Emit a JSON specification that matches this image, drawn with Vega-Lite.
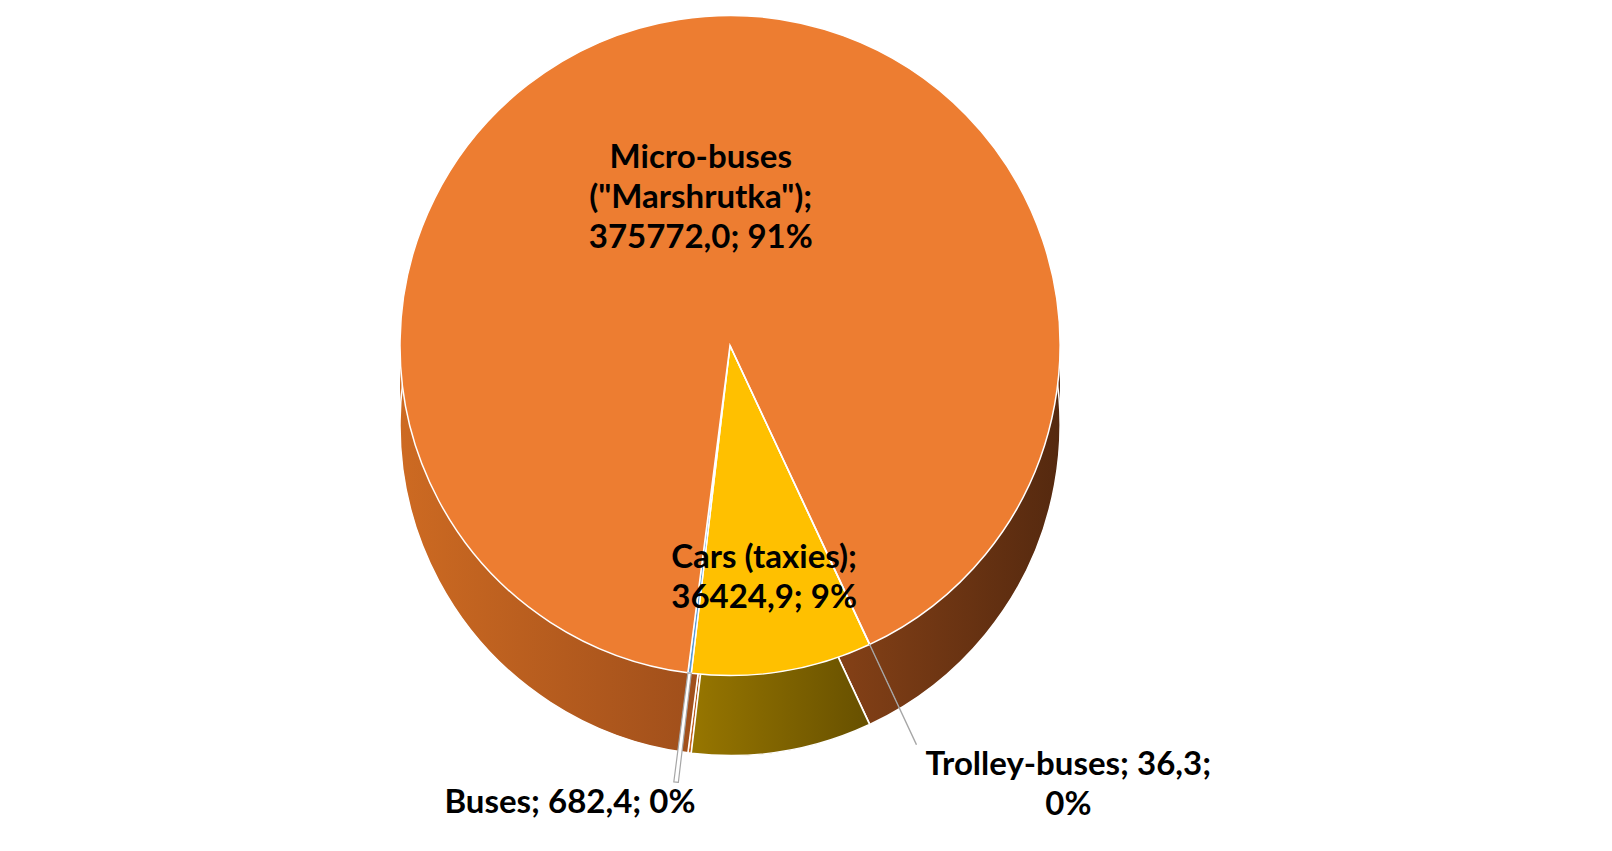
{
  "$schema": "https://vega.github.io/schema/vega-lite/v6.json",
  "autosize": {"type": "none"},
  "width": 1460,
  "height": 851,
  "padding": {"left": 0, "top": 0, "right": 152, "bottom": 0},
  "background": "white",
  "view": {"stroke": null},
  "data": {
    "values": [
      {"category": "Cars (taxies)", "value": 36424.9, "seq": 1, "label": "Cars (taxies);|36424,9; 9%"},
      {"category": "Buses", "value": 682.4, "seq": 2, "label": "Buses; 682,4; 0%"},
      {"category": "Micro-buses (\"Marshrutka\")", "value": 375772.0, "seq": 3, "label": "Micro-buses|(\"Marshrutka\");|375772,0; 91%"},
      {"category": "Trolley-buses", "value": 36.3, "seq": 4, "label": "Trolley-buses; 36,3;|0%"}
    ]
  },
  "encoding": {
    "theta": {"field": "value", "type": "quantitative", "stack": true, "scale": {"range": [2.705, 8.988]}},
    "order": {"field": "seq", "type": "quantitative"}
  },
  "layer": [
    {
      "mark": {"type": "arc", "radius": 330, "yOffset": -40,
        "fill": {"gradient": "linear", "x1": 0, "x2": 1, "y1": 0, "y2": 0, "stops": [{"offset": 0, "color": "#CD6A22"}, {"offset": 0.5, "color": "#9B4C1A"}, {"offset": 1, "color": "#55290F"}]}}
    },
    {
      "mark": {"type": "arc", "radius": 330, "yOffset": 0, "stroke": "white", "strokeWidth": 1.5,
        "fill": {"gradient": "linear", "x1": 0, "x2": 1, "y1": 0, "y2": 0, "stops": [{"offset": 0, "color": "#CD6A22"}, {"offset": 0.5, "color": "#9B4C1A"}, {"offset": 1, "color": "#55290F"}]}}
    },
    {
      "mark": {"type": "arc", "radius": 330, "yOffset": 0, "stroke": "white", "strokeWidth": 1.5,
        "fill": {"gradient": "linear", "x1": 0, "x2": 1, "y1": 0, "y2": 0, "stops": [{"offset": 0, "color": "#977600"}, {"offset": 1, "color": "#675000"}]}},
      "encoding": {
        "opacity": {"condition": {"test": "datum.category === 'Cars (taxies)'", "value": 1}, "value": 0}
      }
    },
    {
      "mark": {"type": "arc", "radius": 330, "yOffset": -80, "stroke": "white", "strokeWidth": 1.5},
      "encoding": {
        "color": {"field": "category", "type": "nominal", "legend": null,
          "scale": {"domain": ["Cars (taxies)", "Buses", "Micro-buses (\"Marshrutka\")", "Trolley-buses"], "range": ["#FFC000", "#5B9BD5", "#ED7D31", "#A5A5A5"]}}
      }
    },
    {
      "mark": {"type": "arc", "radius": 440, "radius2": 330, "yOffset": -80, "fill": "white", "stroke": "#A6A6A6", "strokeWidth": 1.2},
      "encoding": {
        "opacity": {"condition": {"test": "datum.category === 'Buses' || datum.category === 'Trolley-buses'", "value": 1}, "value": 0}
      }
    },
    {
      "mark": {"type": "text", "radius": 190, "yOffset": -80, "font": "Lato", "fontWeight": "bold", "fontSize": 33, "lineBreak": "|", "lineHeight": 40, "color": "black", "align": "center", "baseline": "middle"},
      "encoding": {
        "text": {"condition": {"test": "datum.category === 'Micro-buses (\"Marshrutka\")'", "field": "label"}, "value": ""}
      }
    },
    {
      "mark": {"type": "text", "radius": 215, "yOffset": -80, "font": "Lato", "fontWeight": "bold", "fontSize": 33, "lineBreak": "|", "lineHeight": 40, "color": "black", "align": "center", "baseline": "middle"},
      "encoding": {
        "text": {"condition": {"test": "datum.category === 'Cars (taxies)'", "field": "label"}, "value": ""}
      }
    },
    {
      "mark": {"type": "text", "radius": 445, "yOffset": -80, "dx": 20, "font": "Lato", "fontWeight": "bold", "fontSize": 33, "lineBreak": "|", "lineHeight": 40, "color": "black", "align": "right", "baseline": "top"},
      "encoding": {
        "text": {"condition": {"test": "datum.category === 'Buses'", "field": "label"}, "value": ""}
      }
    },
    {
      "mark": {"type": "text", "radius": 445, "yOffset": -80, "dx": 150, "font": "Lato", "fontWeight": "bold", "fontSize": 33, "lineBreak": "|", "lineHeight": 40, "color": "black", "align": "center", "baseline": "top"},
      "encoding": {
        "text": {"condition": {"test": "datum.category === 'Trolley-buses'", "field": "label"}, "value": ""}
      }
    }
  ]
}
